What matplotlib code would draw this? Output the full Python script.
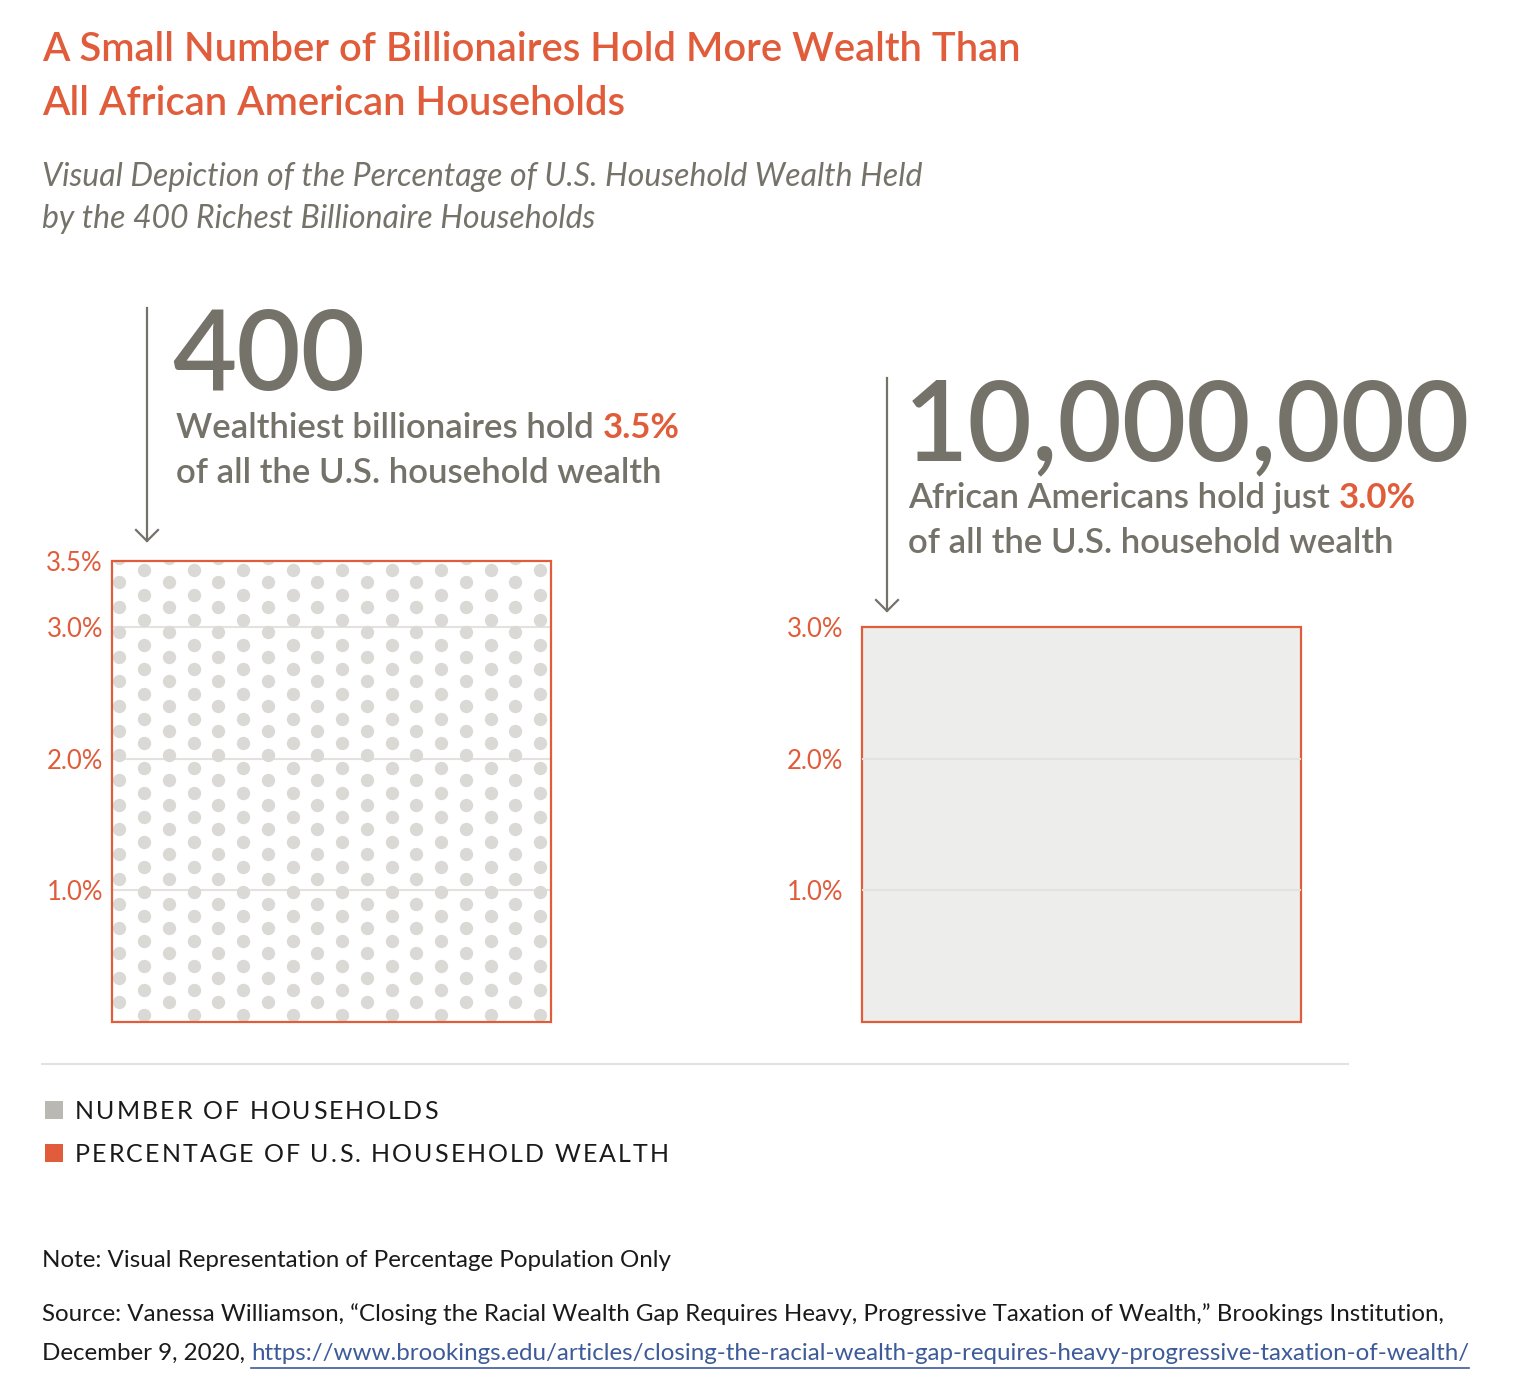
import matplotlib
import matplotlib.pyplot as plt
from matplotlib.lines import Line2D
from matplotlib.patches import Rectangle

matplotlib.use("Agg")

plt.rcParams["font.family"] = ["Lato", "DejaVu Sans"]

# ---- data -------------------------------------------------------------
groups = ["400 richest billionaire households", "African American households"]
household_counts = ["400", "10,000,000"]
wealth_share = [3.5, 3.0]
headline_lines = [
    ("Wealthiest billionaires hold ", "3.5%", "of all the U.S. household wealth"),
    ("African Americans hold just ", "3.0%", "of all the U.S. household wealth"),
]
left_ticks = [1.0, 2.0, 3.0, 3.5]
right_ticks = [1.0, 2.0, 3.0]
legend_labels = ["NUMBER OF HOUSEHOLDS", "PERCENTAGE OF U.S. HOUSEHOLD WEALTH"]

# dot texture in the left bar (columns x rows, staggered)
dot_cols = 18
dot_rows = 19

ORANGE = "#E05C3A"
GRAY_TXT = "#75726A"
DOT = "#DAD9D5"
GRID = "#E3E2DE"
FILL = "#EDEDEB"
LEG_GRAY = "#B9B8B3"
LINK = "#3D5A99"

W, H = 1526, 1400
fig = plt.figure(figsize=(W / 100, H / 100), dpi=100)


def fx(x):
    return x / W


def fy(y):
    return 1 - y / H


def ftext(x, y, s, **kw):
    kw.setdefault("va", "baseline")
    return fig.text(fx(x), fy(y), s, **kw)


# ---- title block ------------------------------------------------------
ftext(42, 61, "A Small Number of Billionaires Hold More Wealth Than",
      fontsize=28.8, color=ORANGE, weight="semibold")
ftext(42, 115, "All African American Households",
      fontsize=28.8, color=ORANGE, weight="semibold")
ftext(42, 186, "Visual Depiction of the Percentage of U.S. Household Wealth Held",
      fontsize=23, color=GRAY_TXT, style="italic")
ftext(42, 228, "by the 400 Richest Billionaire Households",
      fontsize=23, color=GRAY_TXT, style="italic")

# ---- panels -----------------------------------------------------------
ax_l = fig.add_axes([fx(112), fy(1022), 439 / W, 461 / H])
ax_r = fig.add_axes([fx(862), fy(1022), 439 / W, 461 / H])

for ax, ticks, pad in ((ax_l, left_ticks, 6.5), (ax_r, right_ticks, 13.5)):
    ax.set_xlim(0, 1)
    ax.set_ylim(0, 3.5)
    for sp in ax.spines.values():
        sp.set_visible(False)
    ax.set_xticks([])
    ax.set_yticks(ticks)
    ax.set_yticklabels([f"{t:.1f}%" for t in ticks])
    ax.tick_params(axis="y", length=0, pad=pad, labelsize=18.5, labelcolor=ORANGE)
    ax.set_facecolor("none")

# left: outlined bar with dot texture
ax_l.bar(0, wealth_share[0], width=1, align="edge", facecolor="none",
         edgecolor=ORANGE, linewidth=1.6, zorder=5, clip_on=False)
ax_l.hlines([1, 2, 3], 0, 1, color=GRID, linewidth=1.5, zorder=2)

dx = 24.76 / 439
x0 = 7.3 / 439
dy = 0.1875
xs, ys = [], []
for i in range(dot_cols):
    yb = 0.1496 if i % 2 == 0 else 0.053
    for k in range(dot_rows):
        xs.append(x0 + i * dx)
        ys.append(yb + k * dy)
ax_l.scatter(xs, ys, s=92, color=DOT, linewidths=0, zorder=3)

# right: filled bar
ax_r.bar(0, wealth_share[1], width=1, align="edge", facecolor=FILL,
         edgecolor=ORANGE, linewidth=1.6, zorder=1, clip_on=False)
ax_r.hlines([1, 2], 0, 1, color=GRID, linewidth=1.5, zorder=2)

# ---- annotations ------------------------------------------------------
heads = [
    dict(ax=147, ay0=308, ay1=541, tx=176, ny=390, l1=438, l2=483),
    dict(ax=887, ay0=378, ay1=611, tx=908, ny=460, l1=508, l2=553),
]
for h, num, (a, b, c) in zip(heads, household_counts, headline_lines):
    fig.add_artist(Line2D([fx(h["ax"])] * 2, [fy(h["ay0"]), fy(h["ay1"])],
                          color=GRAY_TXT, linewidth=1.6))
    fig.add_artist(Line2D([fx(h["ax"] - 11), fx(h["ax"]), fx(h["ax"] + 11)],
                          [fy(h["ay1"] - 11), fy(h["ay1"]), fy(h["ay1"] - 11)],
                          color=GRAY_TXT, linewidth=1.6))
    ftext(h["tx"] - 4, h["ny"], num, fontsize=80, color=GRAY_TXT, weight="semibold")
    t1 = ftext(h["tx"], h["l1"], a, fontsize=25, color=GRAY_TXT, weight="semibold")
    fig.canvas.draw()
    bb = t1.get_window_extent()
    ftext(bb.x1, h["l1"], b, fontsize=25, color=ORANGE, weight="bold")
    ftext(h["tx"], h["l2"], c, fontsize=25, color=GRAY_TXT, weight="semibold")

# ---- separator + legend ----------------------------------------------
fig.add_artist(Line2D([fx(42), fx(1348)], [fy(1064)] * 2, color=GRID, linewidth=1.5))

renderer = fig.canvas.get_renderer()


def spaced(x, y, s, tracking, **kw):
    for ch in s:
        t = ftext(x, y, ch, **kw)
        x += t.get_window_extent(renderer).width + tracking
    return x


for row, (lab, col) in enumerate(zip(legend_labels, [LEG_GRAY, ORANGE])):
    base = 1119 + row * 43
    fig.add_artist(Rectangle((fx(45), fy(base)), 18 / W, 18 / H,
                             transform=fig.transFigure, color=col, linewidth=0))
    spaced(75, base, lab, 2.1, fontsize=18, color="#1A1A1A")

# ---- footer -----------------------------------------------------------
FS = 17.4
ftext(42, 1267, "Note: Visual Representation of Percentage Population Only",
      fontsize=FS, color="#1A1A1A")
ftext(42, 1321, "Source: Vanessa Williamson, \u201cClosing the Racial Wealth Gap "
      "Requires Heavy, Progressive Taxation of Wealth,\u201d Brookings Institution,",
      fontsize=FS, color="#1A1A1A")
t_date = ftext(42, 1360, "December 9, 2020, ", fontsize=FS, color="#1A1A1A")
fig.canvas.draw()
xb = t_date.get_window_extent().x1
t_url = ftext(xb, 1360,
              "https://www.brookings.edu/articles/closing-the-racial-wealth-gap-"
              "requires-heavy-progressive-taxation-of-wealth/",
              fontsize=FS, color=LINK)
fig.canvas.draw()
ub = t_url.get_window_extent()
fig.add_artist(Line2D([ub.x0 / W, ub.x1 / W], [fy(1368)] * 2, color=LINK, linewidth=1.2))

fig.savefig("out.png", dpi=100, facecolor="white")
